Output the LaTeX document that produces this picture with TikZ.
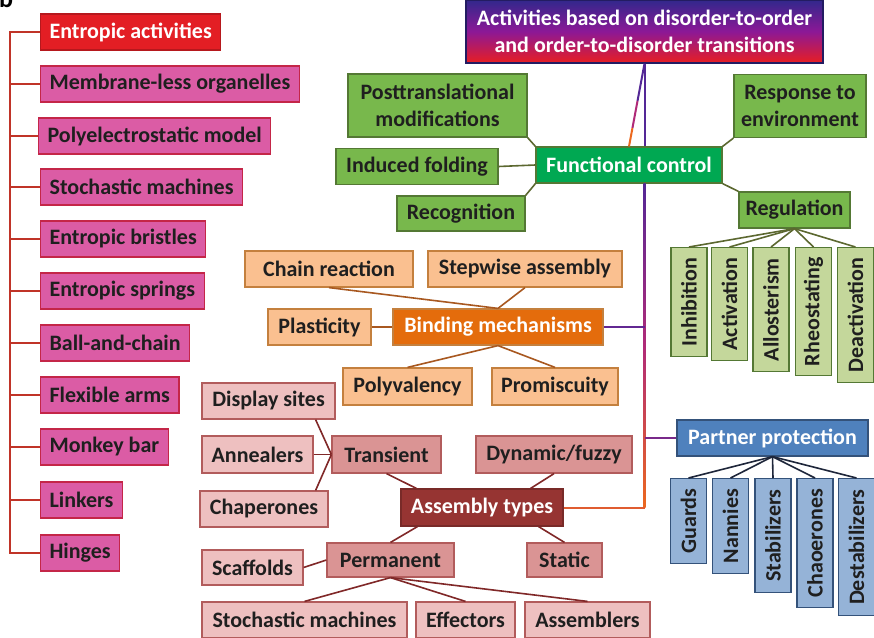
\documentclass[tikz,border=0pt]{standalone}
\usepackage{fontspec}
\setmainfont{Carlito}

\definecolor{entred}{RGB}{227,30,36}
\definecolor{entpink}{RGB}{219,92,165}
\definecolor{entedge}{RGB}{196,38,72}
\definecolor{entline}{RGB}{192,52,40}
\definecolor{fcgreen}{RGB}{0,168,82}
\definecolor{midgreen}{RGB}{120,184,76}
\definecolor{palegreen}{RGB}{196,215,155}
\definecolor{greenedge}{RGB}{84,120,52}
\definecolor{greenline}{RGB}{92,104,48}
\definecolor{bmorange}{RGB}{228,108,12}
\definecolor{paleorange}{RGB}{250,192,144}
\definecolor{orangeedge}{RGB}{196,128,62}
\definecolor{orangeline}{RGB}{168,88,32}
\definecolor{atred}{RGB}{150,52,50}
\definecolor{midpink}{RGB}{218,148,148}
\definecolor{palepink}{RGB}{238,192,192}
\definecolor{pinkedge}{RGB}{178,92,92}
\definecolor{pinkline}{RGB}{128,40,40}
\definecolor{ppblue}{RGB}{79,129,189}
\definecolor{paleblue}{RGB}{149,179,215}
\definecolor{blueedge}{RGB}{52,82,122}
\definecolor{blueline}{RGB}{30,38,58}
\definecolor{topblue}{RGB}{50,40,140}
\definecolor{toppurple}{RGB}{140,24,150}
\definecolor{topred}{RGB}{232,30,34}
\definecolor{spinetop}{RGB}{84,40,150}
\definecolor{spinemid}{RGB}{176,42,120}
\definecolor{spinelow}{RGB}{236,104,30}

\tikzset{
  box/.style={draw, line width=1.2pt, inner sep=1pt, minimum height=36pt,
    align=center, text=black!88,
    font=\bfseries\fontsize{22}{27}\selectfont},
  entbox/.style={box, fill=entpink, draw=entedge, anchor=west, inner xsep=9pt},
  gbox/.style={box, fill=midgreen, draw=greenedge},
  gvbox/.style={box, fill=palegreen, draw=greenedge, rotate=90, anchor=east},
  obox/.style={box, fill=paleorange, draw=orangeedge},
  pbox/.style={box, fill=palepink, draw=pinkedge},
  mbox/.style={box, fill=midpink, draw=pinkedge},
  bvbox/.style={box, fill=paleblue, draw=blueedge, rotate=90, anchor=east},
  hub/.style={box, text=white},
  tree/.style={draw=entline, line width=1.6pt},
  gline/.style={draw=greenline, line width=1.6pt},
  oline/.style={draw=orangeline, line width=1.6pt},
  pline/.style={draw=pinkline, line width=1.6pt},
  bline/.style={draw=blueline, line width=1.6pt},
  spine/.style={line width=2pt}
}

\begin{document}
\begin{tikzpicture}[x=1pt,y=-1pt]
  \useasboundingbox[fill=white] (0,0) rectangle (874,637);

  \node[font=\bfseries\fontsize{26}{26}\selectfont, anchor=base west, inner sep=0]
    (panel) at (-1,8) {b};

  % entropic chain on the left
  \node[entbox, fill=entred, draw=entred!80!black, text=white] (e1) at (40,32) {Entropic activities};
  \node[entbox] (e2) at (40,84) {Membrane-less organelles};
  \node[entbox] (e3) at (38,136) {Polyelectrostatic model};
  \node[entbox] (e4) at (40,187) {Stochastic machines};
  \node[entbox] (e5) at (40,239) {Entropic bristles};
  \node[entbox] (e6) at (40,291) {Entropic springs};
  \node[entbox] (e7) at (40,343) {Ball-and-chain};
  \node[entbox] (e8) at (40,395) {Flexible arms};
  \node[entbox] (e9) at (40,447) {Monkey bar};
  \node[entbox] (e10) at (40,500) {Linkers};
  \node[entbox] (e11) at (40,553) {Hinges};

  \draw[tree] (e1.west) -- (10,32) |- (e11.west);
  \foreach \n in {2,...,10}
    \draw[tree] (e\n.west) -- (10,0 |- e\n.west);

  % top of the map
  \node[hub, top color=topblue, bottom color=topred, middle color=toppurple,
    draw=topblue!70!black, minimum width=357pt, minimum height=63pt]
    (title) at (644.5,31.5) {Activities based on disorder-to-order\\and order-to-disorder transitions};

  % functional control
  \node[hub, fill=fcgreen, draw=greenedge, minimum width=186pt] (fc) at (629,165) {Functional control};
  \node[gbox, minimum width=179pt, minimum height=63pt] (ptm) at (437.5,105.5) {Posttranslational\\modifications};
  \node[gbox, minimum width=132pt, minimum height=63pt] (resp) at (800,106) {Response to\\environment};
  \node[gbox, minimum width=162pt] (ind) at (417,166.5) {Induced folding};
  \node[gbox, minimum width=128pt, minimum height=35pt] (rec) at (461,213.5) {Recognition};
  \node[gbox, minimum width=111pt] (reg) at (794.5,210) {Regulation};

  \node[gvbox, minimum width=109pt] (inh) at (689,247) {Inhibition};
  \node[gvbox, minimum width=113pt] (act) at (729.5,247) {Activation};
  \node[gvbox, minimum width=124pt] (allo) at (771,247) {Allosterism};
  \node[gvbox, minimum width=128pt] (rheo) at (813.5,247) {Rheostating};
  \node[gvbox, minimum width=135pt] (deact) at (855.5,247) {Deactivation};

  \draw[gline] (ptm.south east) -- (fc.north west);
  \draw[gline] (ind.east) -- (fc.west);
  \draw[gline] (rec.north east) -- (fc.south west);
  \draw[gline] (resp.south west) -- (fc.north east);
  \draw[gline] (reg.north west) -- (fc.south east);
  \foreach \v in {inh,act,allo,rheo,deact}
    \draw[gline] (reg.south) -- (\v.east);

  % binding mechanisms
  \node[hub, fill=bmorange, draw=orangeedge, minimum width=210pt] (bm) at (498,327) {Binding mechanisms};
  \node[obox, minimum width=168pt] (chain) at (329,269) {Chain reaction};
  \node[obox, minimum width=194pt] (step) at (525,269) {Stepwise assembly};
  \node[obox, minimum width=103pt] (plast) at (319.5,327) {Plasticity};
  \node[obox, minimum width=129pt, minimum height=37pt] (poly) at (407.5,386.5) {Polyvalency};
  \node[obox, minimum width=126pt, minimum height=37pt] (prom) at (555,386.5) {Promiscuity};

  \draw[oline] (chain.south) -- (bm.north);
  \draw[oline] (step.south) -- (bm.north);
  \draw[oline] (plast.east) -- (bm.west);
  \draw[oline] (poly.north) -- (bm.south);
  \draw[oline] (prom.north) -- (bm.south);

  % assembly types
  \node[hub, fill=atred, draw=atred!80!black, minimum width=162pt, minimum height=37pt] (at) at (482,507.5) {Assembly types};
  \node[mbox, minimum width=109pt, minimum height=37pt] (trans) at (386.5,454.5) {Transient};
  \node[mbox, minimum width=156pt, minimum height=37pt] (dyn) at (554,454.5) {Dynamic/fuzzy};
  \node[mbox, minimum width=127pt, minimum height=34pt] (perm) at (390.5,560) {Permanent};
  \node[mbox, minimum width=75pt, minimum height=34pt] (stat) at (564.5,560) {Static};
  \node[pbox, minimum width=133pt] (disp) at (268.5,401) {Display sites};
  \node[pbox, minimum width=111pt, minimum height=37pt] (ann) at (257.5,454.5) {Annealers};
  \node[pbox, minimum width=128pt] (chap) at (264,509) {Chaperones};
  \node[pbox, minimum width=101pt, minimum height=35pt] (scaf) at (252.5,567.5) {Scaffolds};
  \node[pbox, minimum width=205pt] (stoch) at (304.5,620) {Stochastic machines};
  \node[pbox, minimum width=99pt] (eff) at (465.5,620) {Effectors};
  \node[pbox, minimum width=125pt] (asmb) at (587.5,620) {Assemblers};

  \draw[pline] ([xshift=-20pt]disp.south east) -- (trans.west);
  \draw[pline] (ann.east) -- (trans.west);
  \draw[pline] ([xshift=-13pt]chap.north east) -- (trans.west);
  \draw[pline] (trans.south) -- ([xshift=16pt]at.north west);
  \draw[pline] (dyn.south) -- ([xshift=-33pt]at.north east);
  \draw[pline] ([xshift=17pt]at.south west) -- (perm.north);
  \draw[pline] ([xshift=-25pt]at.south east) -- (stat.north);
  \draw[pline] (scaf.east) -- (perm.west);
  \draw[pline] (perm.south) -- (stoch.north);
  \draw[pline] (perm.south) -- (eff.north);
  \draw[pline] (perm.south) -- (asmb.north);

  % partner protection
  \node[hub, fill=ppblue, draw=blueedge, minimum width=191pt] (pp) at (772.5,438) {Partner protection};
  \node[bvbox, minimum width=85pt] (grd) at (688.5,478) {Guards};
  \node[bvbox, minimum width=95pt] (nan) at (730.5,478) {Nannies};
  \node[bvbox, minimum width=114pt] (stab) at (773,478) {Stabilizers};
  \node[bvbox, minimum width=129pt] (chao) at (815,478) {Chaoerones};
  \node[bvbox, minimum width=137pt] (dest) at (856.5,478) {Destabilizers};
  \foreach \v in {grd,nan,stab,chao,dest}
    \draw[bline] (pp.south) -- (\v.east);

  % main spine
  \coordinate (jbind) at (title.south |- bm.east);
  \coordinate (jpart) at (title.south |- pp.west);
  \coordinate (jasm) at (title.south |- at.east);

  \draw[spine, spinetop] (title.south) -- (title.south |- fc.north);
  \path (title.south) -- (fc.north) coordinate[pos=0.45] (sla) coordinate[pos=0.78] (slb);
  \draw[spine, spinetop] (title.south) -- (sla);
  \draw[spine, spinemid] (sla) -- (slb);
  \draw[spine, spinelow] (slb) -- (fc.north);
  \shade[top color=spinetop, bottom color=spinelow, middle color=spinemid]
    ([xshift=-1pt]title.south |- fc.south) rectangle ([xshift=1pt]jasm);
  \draw[spine, spinetop!85!spinemid] (jbind) -- (bm.east);
  \draw[spine, spinetop!60!spinemid] (jpart) -- (pp.west);
  \draw[spine, spinelow!80!spinemid] (jasm) -- (at.east);
\end{tikzpicture}
\end{document}
